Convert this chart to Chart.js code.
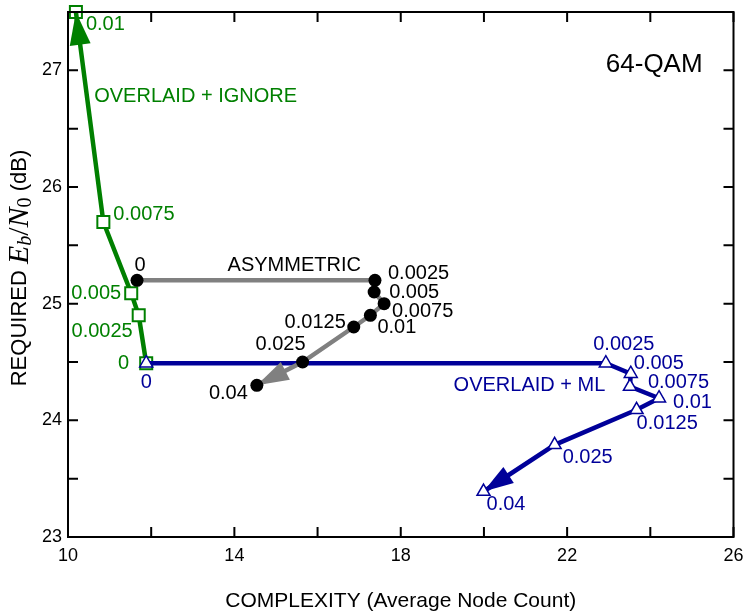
<!DOCTYPE html>
<html>
<head>
<meta charset="utf-8">
<script src="https://cdn.jsdelivr.net/npm/chart.js@4.4.1/dist/chart.umd.min.js"></script>
<style>
  html, body { margin: 0; padding: 0; background: #fff; }
  canvas { display: block; }
</style>
</head>
<body>
<canvas id="grafico" width="744" height="615"></canvas>
<script>
// valores (x = nodos promedio, y = Eb/N0 requerido)
const ignoreX = [11.88, 11.70, 11.52, 10.85, 10.19];
const ignoreY = [24.49, 24.90, 25.09, 25.70, 27.50];
const ignoreLabels = ['0', '0.0025', '0.005', '0.0075', '0.01'];

const asymX = [11.66, 17.38, 17.36, 17.60, 17.27, 16.87, 15.64, 14.54];
const asymY = [25.20, 25.20, 25.10, 25.00, 24.90, 24.80, 24.50, 24.30];
const asymLabels = ['0', '0.0025', '0.005', '0.0075', '0.01', '0.0125', '0.025', '0.04'];

const mlX = [11.88, 22.93, 23.53, 23.51, 24.21, 23.67, 21.70, 19.99];
const mlY = [24.49, 24.49, 24.40, 24.29, 24.19, 24.09, 23.79, 23.39];
const mlLabels = ['0', '0.0025', '0.005', '0.0075', '0.01', '0.0125', '0.025', '0.04'];

const xTicks = [10, 14, 18, 22, 26];
const yTicks = [23, 24, 25, 26, 27];

// posicion de cada etiqueta respecto a su punto: [dx, dy, alineacion]
const ignoreOffsets = [[-17, 0, 'right'], [-6, 16, 'right'], [-10, 0, 'right'], [10, -8, 'left'], [10, 12, 'left']];
const asymOffsets = [[3, -15, 'center'], [13, -7, 'left'], [15, 0, 'left'], [8, 8, 'left'], [7, 12, 'left'],
                     [-8, -5, 'right'], [-22, -18, 'center'], [-9, 8, 'right']];
const mlOffsets = [[0, 19, 'center'], [18, -19, 'center'], [3, -10, 'left'], [18, -4, 'left'], [14, 4, 'left'],
                   [0, 14, 'left'], [8, 13, 'left'], [3, 13, 'left']];

const VERDE = '#008000';
const AZUL = '#000099';
const GRIS = '#808080';
const SANS = '"Liberation Sans", Arial, sans-serif';
const SERIF = '"Liberation Serif", "Times New Roman", serif';

function puntos(xs, ys) {
  return xs.map((x, i) => ({ x: x, y: ys[i] }));
}

const series = [
  { idx: 0, labels: asymLabels, offsets: asymOffsets, color: '#000' },
  { idx: 1, labels: mlLabels, offsets: mlOffsets, color: AZUL },
  { idx: 2, labels: ignoreLabels, offsets: ignoreOffsets, color: VERDE }
];

const textos = [
  { text: 'ASYMMETRIC', x: 15.44, y: 25.33, color: '#000', align: 'center', size: 20 },
  { text: 'OVERLAID + IGNORE', x: 10.63, y: 26.78, color: VERDE, align: 'left', size: 20 },
  { text: 'OVERLAID + ML', x: 19.27, y: 24.30, color: AZUL, align: 'left', size: 20 },
  { text: '64-QAM', x: 22.93, y: 27.05, color: '#000', align: 'left', size: 26 }
];

// punta de flecha al final de cada serie
const flechas = {
  id: 'flechas',
  beforeDatasetDraw(chart, args) {
    const ds = chart.data.datasets[args.index];
    if (!ds.flecha) return;
    const pts = args.meta.data;
    const a = pts[pts.length - 2], b = pts[pts.length - 1];
    const ang = Math.atan2(b.y - a.y, b.x - a.x);
    const L = ds.flecha.largo, W = ds.flecha.ancho / 2;
    const ctx = chart.ctx;
    ctx.save();
    ctx.translate(b.x, b.y);
    ctx.rotate(ang);
    ctx.beginPath();
    ctx.moveTo(0, 0);
    ctx.lineTo(-L, -W);
    ctx.lineTo(-L, W);
    ctx.closePath();
    ctx.fillStyle = ds.borderColor;
    ctx.fill();
    ctx.restore();
  }
};

const etiquetas = {
  id: 'etiquetas',
  afterDatasetsDraw(chart) {
    const ctx = chart.ctx;
    const sx = chart.scales.x, sy = chart.scales.y;
    ctx.save();
    ctx.textBaseline = 'middle';
    series.forEach(s => {
      const meta = chart.getDatasetMeta(s.idx);
      ctx.fillStyle = s.color;
      ctx.font = '20px ' + SANS;
      meta.data.forEach((p, i) => {
        const o = s.offsets[i];
        ctx.textAlign = o[2];
        ctx.fillText(s.labels[i], p.x + o[0], p.y + o[1]);
      });
    });
    textos.forEach(t => {
      ctx.fillStyle = t.color;
      ctx.font = t.size + 'px ' + SANS;
      ctx.textAlign = t.align;
      ctx.fillText(t.text, sx.getPixelForValue(t.x), sy.getPixelForValue(t.y));
    });
    ctx.restore();
  }
};

// marco, marcas hacia adentro y titulo del eje y con subindices
const marco = {
  id: 'marco',
  afterDraw(chart) {
    const ctx = chart.ctx;
    const { left, right, top, bottom } = chart.chartArea;
    const sx = chart.scales.x, sy = chart.scales.y;
    ctx.save();
    ctx.strokeStyle = '#000';
    ctx.lineWidth = 2;
    ctx.strokeRect(left, top, right - left, bottom - top);
    ctx.beginPath();
    sx.ticks.forEach(t => {
      const x = sx.getPixelForValue(t.value);
      ctx.moveTo(x, bottom); ctx.lineTo(x, bottom - 10);
      ctx.moveTo(x, top); ctx.lineTo(x, top + 10);
    });
    sy.ticks.forEach(t => {
      const y = sy.getPixelForValue(t.value);
      ctx.moveTo(left, y); ctx.lineTo(left + 10, y);
      ctx.moveTo(right, y); ctx.lineTo(right - 10, y);
    });
    ctx.stroke();

    const partes = [
      { t: 'REQUIRED ', f: '22px ' + SANS, dy: 0 },
      { t: 'E', f: 'italic 30px ' + SERIF, dy: 0 },
      { t: 'b', f: 'italic 20px ' + SERIF, dy: 6 },
      { t: '/', f: '30px ' + SERIF, dy: 0 },
      { t: 'N', f: 'italic 30px ' + SERIF, dy: 0 },
      { t: '0', f: '20px ' + SERIF, dy: 6 },
      { t: ' (dB)', f: '22px ' + SANS, dy: 0 }
    ];
    let total = 0;
    partes.forEach(p => { ctx.font = p.f; p.w = ctx.measureText(p.t).width; total += p.w; });
    ctx.translate(20, 268);
    ctx.rotate(-Math.PI / 2);
    ctx.fillStyle = '#000';
    ctx.textBaseline = 'middle';
    ctx.textAlign = 'left';
    let cx = -total / 2;
    partes.forEach(p => {
      ctx.font = p.f;
      ctx.fillText(p.t, cx, p.dy);
      cx += p.w;
    });
    ctx.restore();
  }
};

function sinRelleno(scale) {
  scale.paddingLeft = 0;
  scale.paddingRight = 0;
  scale.paddingTop = 0;
  scale.paddingBottom = 0;
}

const ctx = document.getElementById('grafico').getContext('2d');
new Chart(ctx, {
  type: 'scatter',
  data: {
    datasets: [
      {
        label: 'ASYMMETRIC',
        data: puntos(asymX, asymY),
        showLine: true,
        borderColor: GRIS,
        borderWidth: 4.5,
        pointStyle: 'circle',
        pointRadius: 6.5,
        pointBackgroundColor: '#000',
        pointBorderColor: '#000',
        pointBorderWidth: 0,
        flecha: { largo: 32, ancho: 20 },
        clip: false
      },
      {
        label: 'OVERLAID + ML',
        data: puntos(mlX, mlY),
        showLine: true,
        borderColor: AZUL,
        borderWidth: 4.5,
        pointStyle: 'triangle',
        pointRadius: 7.5,
        pointBackgroundColor: '#fff',
        pointBorderColor: AZUL,
        pointBorderWidth: 1.5,
        flecha: { largo: 30, ancho: 19 },
        clip: false
      },
      {
        label: 'OVERLAID + IGNORE',
        data: puntos(ignoreX, ignoreY),
        showLine: true,
        borderColor: VERDE,
        borderWidth: 4.5,
        pointStyle: 'rect',
        pointRadius: 8.5,
        pointBackgroundColor: ['#fff', '#fff', '#fff', '#fff', 'rgba(255,255,255,0)'],
        pointBorderColor: VERDE,
        pointBorderWidth: 2,
        flecha: { largo: 33, ancho: 21 },
        clip: false
      }
    ]
  },
  options: {
    responsive: false,
    animation: false,
    devicePixelRatio: 1,
    layout: { padding: { top: 12, right: 9, left: 0, bottom: 0 } },
    plugins: {
      legend: { display: false },
      tooltip: { enabled: false }
    },
    elements: { line: { tension: 0 } },
    scales: {
      x: {
        type: 'linear',
        min: 10,
        max: 26,
        grid: { display: false, drawTicks: false },
        border: { display: false },
        ticks: {
          stepSize: 2,
          padding: 8,
          color: '#000',
          font: { family: SANS, size: 18 },
          maxRotation: 0,
          callback: v => xTicks.includes(v) ? String(v) : ''
        },
        title: {
          display: true,
          text: 'COMPLEXITY (Average Node Count)',
          color: '#000',
          font: { family: SANS, size: 21 },
          padding: { top: 0, bottom: 1 }
        },
        afterFit(scale) { scale.height = 78; sinRelleno(scale); }
      },
      y: {
        type: 'linear',
        min: 23,
        max: 27.5,
        grid: { display: false, drawTicks: false },
        border: { display: false },
        ticks: {
          stepSize: 0.5,
          padding: 6,
          color: '#000',
          font: { family: SANS, size: 18 },
          callback: v => yTicks.includes(v) ? String(v) : ''
        },
        afterFit(scale) { scale.width = 68; sinRelleno(scale); }
      }
    }
  },
  plugins: [flechas, etiquetas, marco]
});
</script>
</body>
</html>
